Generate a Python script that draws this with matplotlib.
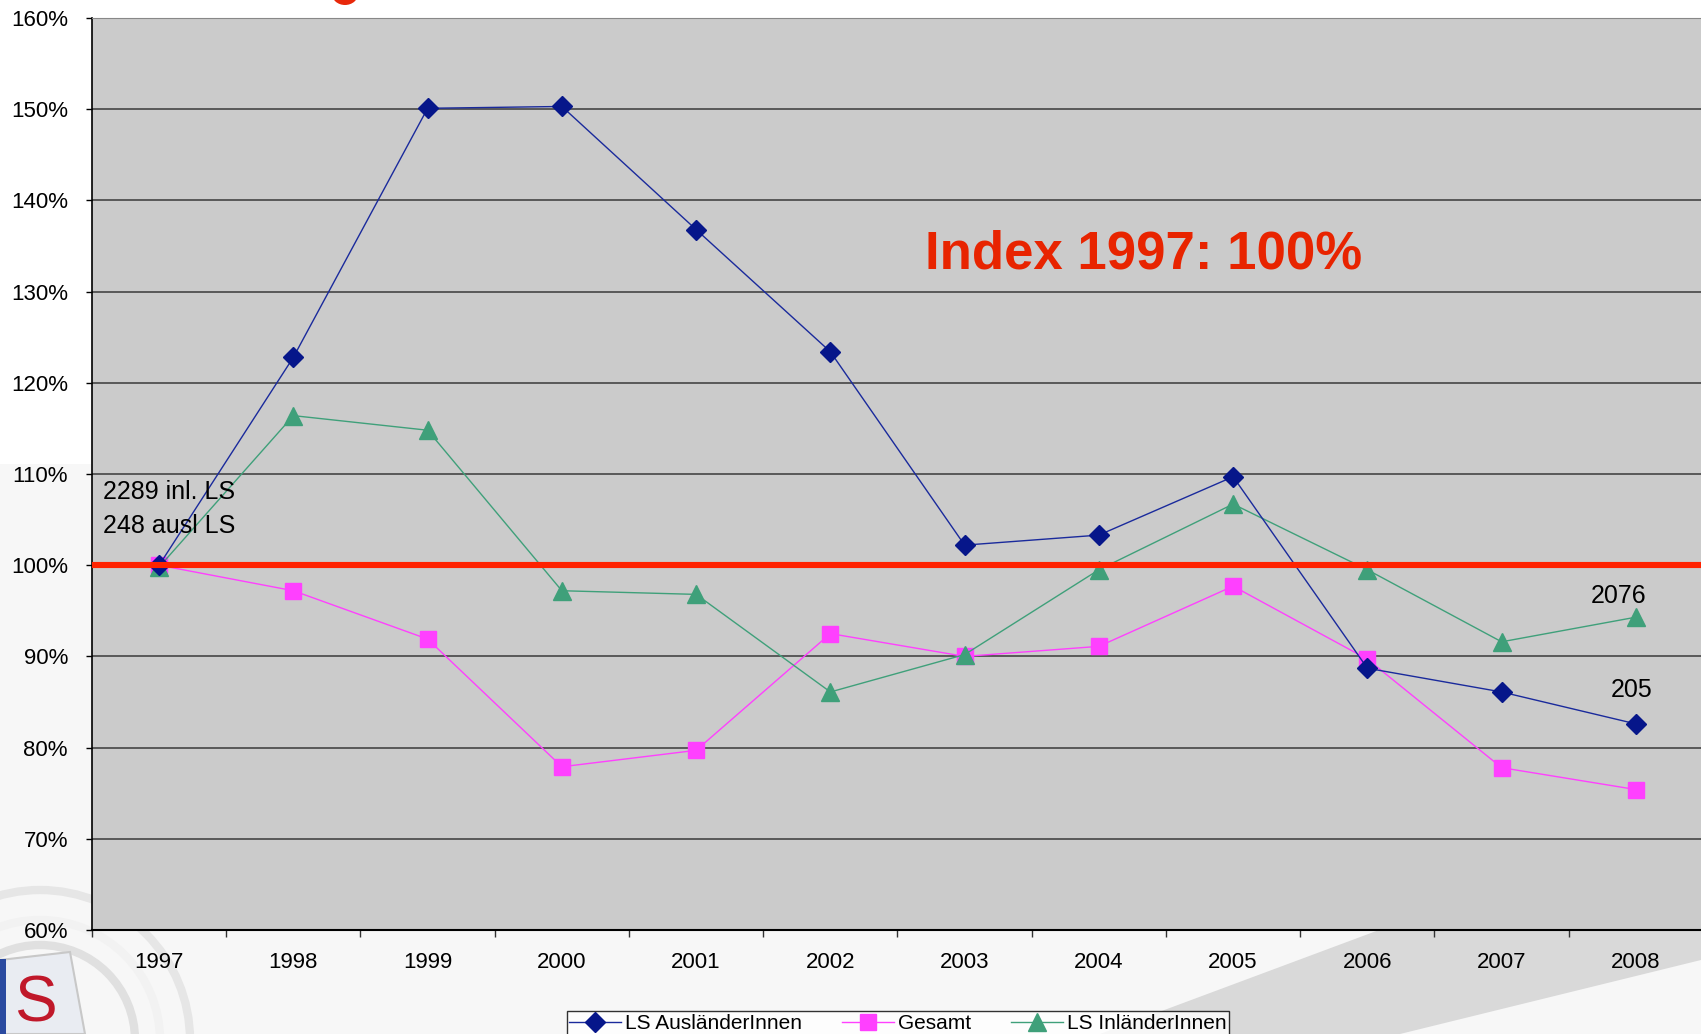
import numpy as np
import matplotlib
matplotlib.use('Agg')
import matplotlib.pyplot as plt
from matplotlib.patches import Polygon, Ellipse, Rectangle
from matplotlib.ticker import FixedLocator, FuncFormatter

# ------------------- DATA -------------------
years = [1997, 1998, 1999, 2000, 2001, 2002, 2003, 2004, 2005, 2006, 2007, 2008]
ausl = [100.0, 122.8, 150.1, 150.3, 136.8, 123.4, 102.2, 103.3, 109.7, 88.7, 86.1, 82.6]
gesamt = [100.0, 97.2, 91.9, 77.9, 79.7, 92.5, 90.0, 91.1, 97.7, 89.7, 77.8, 75.4]
inl = [99.8, 116.4, 114.8, 97.2, 96.8, 86.1, 90.2, 99.5, 106.7, 99.5, 91.6, 94.3]
yticks = [60, 70, 80, 90, 100, 110, 120, 130, 140, 150, 160]

W, H = 1701, 1034
fig = plt.figure(figsize=(W / 100, H / 100), dpi=100)
fig.patch.set_facecolor('white')
plt.rcParams['font.family'] = ['Liberation Sans', 'DejaVu Sans']

# background decoration (light lower part, gray swoosh, logo)
def px(pts):
    return [(x / W, 1 - y / H) for x, y in pts]

fig.patches.append(Rectangle((0, 0), 1, 1 - 464 / H, transform=fig.transFigure,
                             facecolor='#f7f7f7', edgecolor='none', zorder=0))
fig.patches.append(Polygon(px([(1100, 1034), (1701, 810), (1701, 960), (1400, 1034)]),
                           closed=True, transform=fig.transFigure,
                           facecolor='#d9d9d9', edgecolor='none', zorder=0))
for r, c in [(150, '#e6e6e6'), (120, '#f2f2f2'), (95, '#e0e0e0')]:
    fig.patches.append(Ellipse((40 / W, 1 - 1040 / H), 2 * r / W, 2 * r / H,
                               transform=fig.transFigure, facecolor='none',
                               edgecolor=c, lw=6, zorder=0))
fig.patches.append(Polygon(px([(0, 960), (70, 952), (85, 1034), (0, 1034)]), closed=True,
                           transform=fig.transFigure, facecolor='#e9ecf2',
                           edgecolor='#c8c8c8', lw=1.5, zorder=0))
fig.patches.append(Rectangle((0, 0), 6 / W, 75 / H, transform=fig.transFigure,
                             facecolor='#2a4aa0', edgecolor='none', zorder=0))
fig.text(14 / W, 1 - 1034 / H, 'S', color='#c0182a', fontsize=46, ha='left', va='bottom',
         zorder=1)
fig.patches.append(Ellipse((345 / W, 1 - (-6) / H), 26 / W, 22 / H, transform=fig.transFigure,
                           facecolor='#e8280a', edgecolor='none', zorder=1))

# ------------------- AXES -------------------
ax = fig.add_axes([92 / W, 1 - 930 / H, (1703 - 92) / W, (930 - 18) / H])
ax.set_zorder(3)
ax.set_facecolor('#cbcbcb')
ax.set_xlim(1996.5, 2008.5)
ax.set_ylim(60, 160)

for y in yticks[1:]:
    ax.axhline(y, color='#3a3a3a', lw=1.1, zorder=1)

ax.plot(years, ausl, color='#1a2a9c', lw=1.0, marker='D', ms=10,
        mfc='#06168a', mec='#06168a', label='LS AusländerInnen', zorder=4)
ax.plot(years, gesamt, color='#ff40ff', lw=1.0, marker='s', ms=12,
        mfc='#ff40ff', mec='#ff40ff', label='Gesamt', zorder=3)
ax.plot(years, inl, color='#3fa07a', lw=1.0, marker='^', ms=13,
        mfc='#3fa07a', mec='#3fa07a', label='LS InländerInnen', zorder=3)
ax.axhline(100, color='#ff2200', lw=4.4, zorder=5)

ax.text(2004.33, 134.1, 'Index 1997: 100%', color='#e82400', fontsize=38,
        fontweight='bold', ha='center', va='center', zorder=6)
ax.text(1996.58, 108.0, '2289 inl. LS', fontsize=18, ha='left', va='center', zorder=6)
ax.text(1996.58, 104.3, '248 ausl LS', fontsize=18, ha='left', va='center', zorder=6)
ax.text(2007.87, 96.6, '2076', fontsize=18, ha='center', va='center', zorder=6)
ax.text(2007.97, 86.3, '205', fontsize=18, ha='center', va='center', zorder=6)

ax.set_yticks(yticks)
ax.yaxis.set_major_formatter(FuncFormatter(lambda v, p: '%d%%' % v))
ax.tick_params(axis='y', length=4.3, width=1, pad=13, labelsize=16)
ax.set_xticks(years)
ax.set_xticklabels([str(y) for y in years])
ax.xaxis.set_minor_locator(FixedLocator(np.arange(1996.5, 2008.5, 1.0)))
ax.tick_params(axis='x', which='major', length=0, pad=16, labelsize=16)
ax.tick_params(axis='x', which='minor', length=5, width=1, color='#333333')

ax.spines['right'].set_visible(False)
ax.spines['top'].set_color('#888888')
ax.spines['left'].set_linewidth(1.2)
ax.spines['bottom'].set_linewidth(1.5)

leg = fig.legend(loc='upper center', bbox_to_anchor=(898 / W, 1 - 1001 / H), ncol=3,
                 fontsize=15, frameon=True, fancybox=False, edgecolor='black',
                 borderpad=0.12, columnspacing=1.9, handlelength=2.5, handletextpad=0.2)
leg.set_zorder(10)
leg.get_frame().set_linewidth(1.0)
leg.get_frame().set_facecolor('white')

plt.savefig('out.png', dpi=100, facecolor=fig.get_facecolor())
